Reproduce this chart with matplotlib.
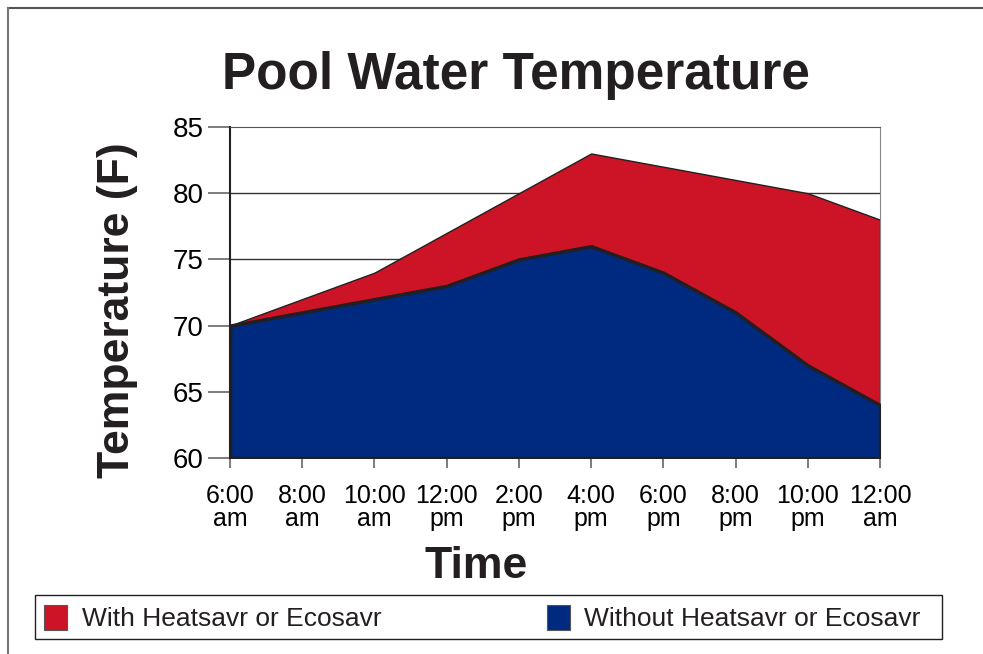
import matplotlib
matplotlib.use("Agg")
import matplotlib.pyplot as plt
from matplotlib.patches import Rectangle
from matplotlib.lines import Line2D

# data
times = ["6:00\nam", "8:00\nam", "10:00\nam", "12:00\npm", "2:00\npm",
         "4:00\npm", "6:00\npm", "8:00\npm", "10:00\npm", "12:00\nam"]
with_saver = [70, 72, 74, 77, 80, 83, 82, 81, 80, 78]
without_saver = [70, 71, 72, 73, 75, 76, 74, 71, 67, 64]
y_ticks = [60, 65, 70, 75, 80, 85]
series_names = ["With Heatsavr or Ecosavr", "Without Heatsavr or Ecosavr"]

RED = "#CD1427"
BLUE = "#002A7F"
EDGE = "#231F20"

plt.rcParams["font.family"] = ["Liberation Sans", "DejaVu Sans"]

W, H = 983, 654
fig = plt.figure(figsize=(W / 100, H / 100), dpi=100)

# outer frame: only top and left edges show in the reference
fig.add_artist(Line2D([8 / W, 1.05], [1 - 7.5 / H] * 2, transform=fig.transFigure,
                      color="#555555", linewidth=1.5))
fig.add_artist(Line2D([8 / W] * 2, [-0.05, 1 - 7.5 / H], transform=fig.transFigure,
                      color="#777777", linewidth=1.5))

ax = fig.add_axes([230 / W, 1 - 458 / H, 650 / W, 331 / H])
x = list(range(len(times)))

for yv in [75, 80]:
    ax.axhline(yv, color="#333333", linewidth=1.0, zorder=0)

ax.fill_between(x, 60, with_saver, facecolor=RED, edgecolor=EDGE,
                linewidth=1.0, zorder=2)
ax.fill_between(x, 60, without_saver, facecolor=BLUE, edgecolor=EDGE,
                linewidth=2.5, zorder=3)

ax.set_xlim(0, len(times) - 1)
ax.set_ylim(60, 85)
ax.set_yticks(y_ticks)
ax.set_xticks(x)
ax.set_xticklabels(times, fontsize=18, linespacing=0.95)
ax.tick_params(axis="y", labelsize=20, length=16, width=1.2,
               color="#666666", pad=3)
ax.tick_params(axis="x", length=7, width=1.2, color="#666666", pad=12)

ax.spines["top"].set_color("#555555")
ax.spines["right"].set_color("#888888")
ax.spines["left"].set_color(EDGE)
ax.spines["left"].set_linewidth(1.5)
ax.spines["bottom"].set_visible(False)

fig.text(516 / W, 1 - 76 / H, "Pool Water Temperature",
         ha="center", va="center", fontsize=37, fontweight="bold",
         color="#231F20")
fig.text(117 / W, 1 - 310 / H, "Temperature (F)", rotation=90,
         ha="center", va="center", fontsize=32, fontweight="bold",
         color="#231F20")
fig.text(476 / W, 1 - 566 / H, "Time", ha="center", va="center",
         fontsize=32, fontweight="bold", color="#231F20")

# legend box
fig.add_artist(Rectangle((35 / W, 1 - 639 / H), 907 / W, 44 / H,
                         transform=fig.transFigure, fill=False,
                         edgecolor="#231F20", linewidth=1.0))
fig.text(82 / W, 1 - 619 / H, series_names[0], va="center",
         fontsize=19, color="#231F20")
fig.text(584 / W, 1 - 619 / H, series_names[1], va="center",
         fontsize=19, color="#231F20")
fig.add_artist(Rectangle((44 / W, 1 - 630 / H), 23 / W, 25 / H,
                         transform=fig.transFigure, facecolor=RED,
                         edgecolor="#555555", linewidth=0.8))
fig.add_artist(Rectangle((547 / W, 1 - 630 / H), 23 / W, 25 / H,
                         transform=fig.transFigure, facecolor=BLUE,
                         edgecolor="#555555", linewidth=0.8))

fig.savefig("out.png", dpi=100)
